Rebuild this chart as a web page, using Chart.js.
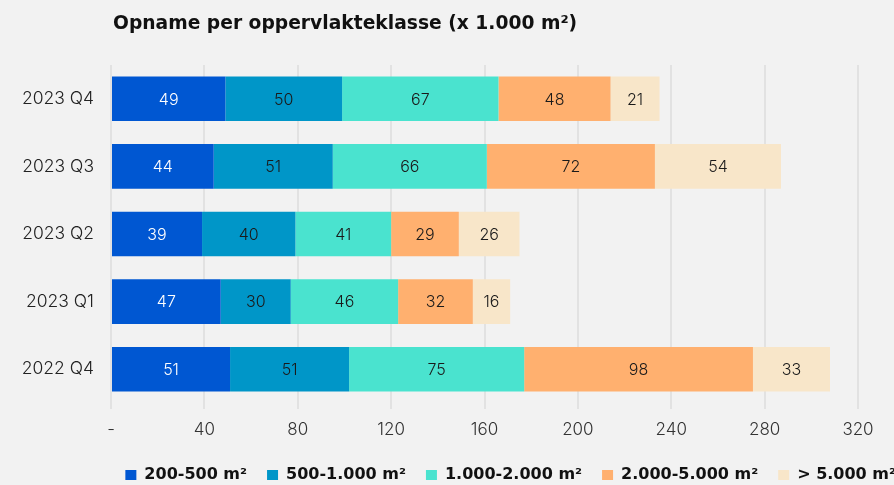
<!DOCTYPE html>
<html>
<head>
<meta charset="utf-8">
<script src="https://cdn.jsdelivr.net/npm/chart.js@4"></script>
<style>
  html, body { margin: 0; padding: 0; background: #f2f2f2; overflow: hidden; }
  #title {
    position: absolute; left: 113px; top: 12px; line-height: 18px;
    font: 700 18.7px "DejaVu Sans", sans-serif; color: #111; white-space: nowrap;
  }
  #wrap { position: absolute; left: 0; top: 0; width: 894px; height: 485px; }
</style>
</head>
<body>
<div id="wrap"><canvas id="chartCanvas"></canvas></div>
<div id="title">Opname per oppervlakteklasse (x 1.000 m²)</div>
<script>
// Quarters (top to bottom)
const categories = ["2023 Q4", "2023 Q3", "2023 Q2", "2023 Q1", "2022 Q4"];

// Uptake per size class (x 1.000 m2)
const size200to500 = [49, 44, 39, 47, 51];
const size500to1000 = [50, 51, 40, 30, 51];
const size1000to2000 = [67, 66, 41, 46, 75];
const size2000to5000 = [48, 72, 29, 32, 98];
const sizeOver5000 = [21, 54, 26, 16, 33];

const seriesNames = ["200-500 m²", "500-1.000 m²", "1.000-2.000 m²", "2.000-5.000 m²", "> 5.000 m²"];
const seriesColors = ["#0057d2", "#0096c8", "#4ae3cf", "#ffb06f", "#f8e6c9"];
const labelColors = ["#ffffff", "#1a1a1a", "#1a1a1a", "#1a1a1a", "#1a1a1a"];
const xTicks = [0, 40, 80, 120, 160, 200, 240, 280, 320];

const allSeries = [size200to500, size500to1000, size1000to2000, size2000to5000, sizeOver5000];

const lightFont = "Inter, sans-serif";

// value labels in the middle of each segment (no datalabels plugin offline)
const barLabels = {
  id: "barLabels",
  afterDatasetsDraw(chart) {
    const ctx = chart.ctx;
    ctx.save();
    ctx.font = "300 16px " + lightFont;
    ctx.textAlign = "center";
    ctx.textBaseline = "middle";
    chart.data.datasets.forEach((ds, i) => {
      const meta = chart.getDatasetMeta(i);
      meta.data.forEach((bar, j) => {
        const x = (bar.x + bar.base) / 2;
        ctx.fillStyle = labelColors[i];
        ctx.fillText(String(ds.data[j]), x, bar.y + 1);
      });
    });
    ctx.restore();
  },
};

// keep the wide gaps between legend items but not the tall box they'd make,
// and push the row to the right like the original
const legendFit = {
  id: "legendFit",
  beforeUpdate(chart) {
    if (chart.legend && !chart.legend._patched) {
      const origFit = chart.legend.fit;
      chart.legend.fit = function () {
        origFit.call(this);
        this.height -= 8;
      };
      const origDraw = chart.legend.draw;
      chart.legend.draw = function () {
        this.ctx.save();
        this.ctx.translate(58, 0);
        origDraw.call(this);
        this.ctx.restore();
      };
      chart.legend._patched = true;
    }
  },
};

const chartCanvas = document.getElementById("chartCanvas");
let myChart = new Chart(chartCanvas, {
  type: "bar",
  data: {
    labels: categories,
    datasets: allSeries.map((values, i) => ({
      label: seriesNames[i],
      data: values,
      backgroundColor: seriesColors[i],
      borderWidth: 0,
      categoryPercentage: 1,
      barPercentage: 0.66,
    })),
  },
  options: {
    indexAxis: "y",
    responsive: true,
    maintainAspectRatio: false,
    animation: false,
    layout: { padding: { top: 65, right: 36, left: 10, bottom: 0 } },
    scales: {
      x: {
        stacked: true,
        min: 0,
        max: 320,
        afterBuildTicks: (axis) => {
          axis.ticks = xTicks.map((v) => ({ value: v }));
        },
        afterFit: (axis) => {
          axis.height = 44;
        },
        grid: { color: "#e2e2e2", lineWidth: 2, tickLength: 6 },
        border: { display: false },
        ticks: {
          padding: 11,
          color: "#333",
          font: { family: lightFont, weight: "300", size: 17 },
          callback: (v) => (v === 0 ? "-" : v),
        },
      },
      y: {
        stacked: true,
        afterFit: (axis) => {
          axis.width = 101;
        },
        grid: { display: false },
        border: { display: false },
        ticks: {
          padding: 9,
          color: "#222",
          font: { family: lightFont, weight: "300", size: 17.5 },
        },
      },
    },
    plugins: {
      tooltip: { enabled: false },
      legend: {
        position: "bottom",
        align: "end",
        labels: {
          boxWidth: 11,
          boxHeight: 10,
          padding: 20,
          color: "#111",
          font: { family: "'DejaVu Sans', sans-serif", weight: "700", size: 16 },
        },
      },
    },
  },
  plugins: [barLabels, legendFit],
});
</script>
</body>
</html>
